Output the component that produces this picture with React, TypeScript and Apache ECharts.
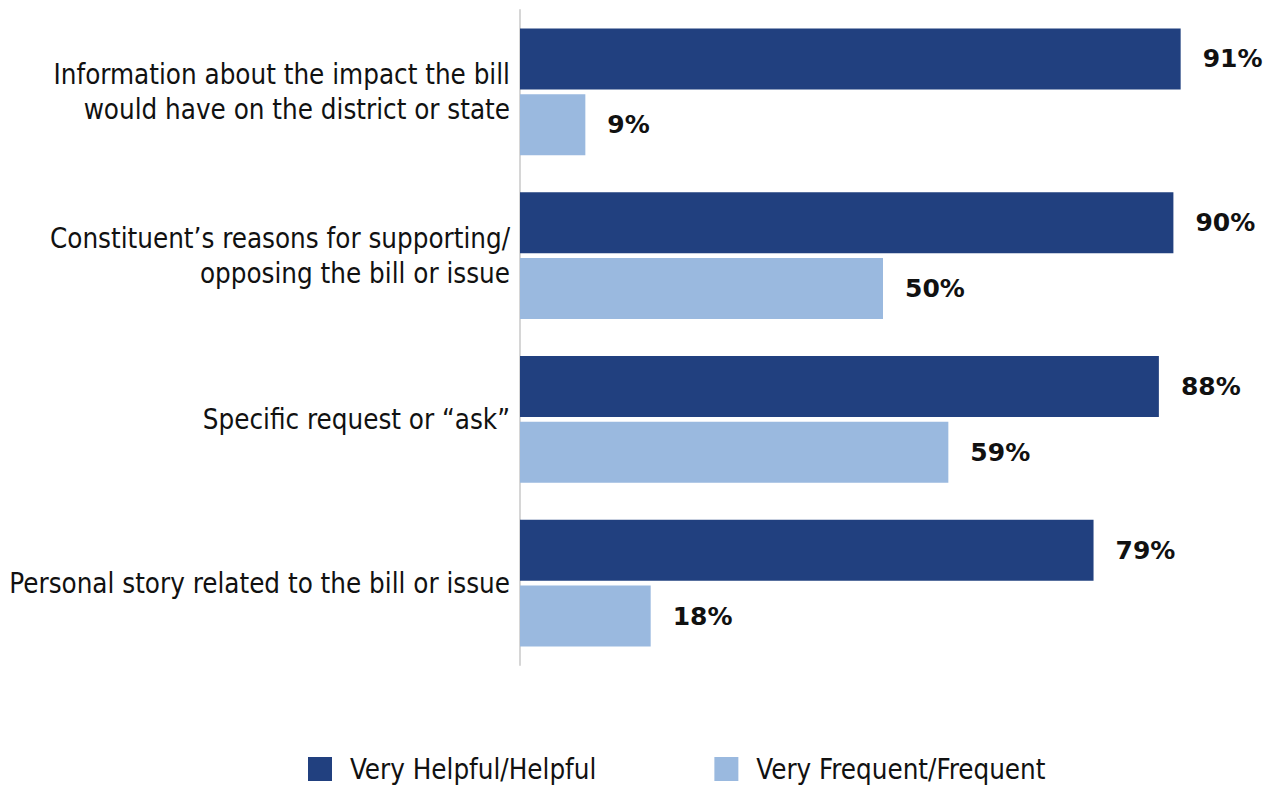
import React, { useEffect, useRef } from "react";
import * as echarts from "echarts";

const categories = [
  "Information about the impact the bill\nwould have on the district or state",
  "Constituent’s reasons for supporting/\nopposing the bill or issue",
  "Specific request or “ask”",
  "Personal story related to the bill or issue",
];
const seriesNames = ["Very Helpful/Helpful", "Very Frequent/Frequent"];
const helpful = [91, 90, 88, 79];
const frequent = [9, 50, 59, 18];

const FONT = "'Liberation Sans Narrow', 'DejaVu Sans Condensed', 'Roboto Condensed', sans-serif";
const BOLD = "'DejaVu Sans', Verdana, sans-serif";

export default function App() {
  const ref = useRef<HTMLDivElement>(null);
  useEffect(() => {
    if (!ref.current) return;
    document.body.style.margin = "0";
    const chart = echarts.init(ref.current, undefined, { renderer: "svg" });
    const label = {
      show: true,
      position: "right",
      distance: 22,
      formatter: "{c}%",
      color: "#111",
      fontFamily: BOLD,
      fontWeight: "bold",
      fontSize: 25,
    };
    chart.setOption({
      animation: false,
      grid: { left: 520, right: 20, top: 10, bottom: 121, containLabel: false },
      legend: {
        top: 752,
        left: 308,
        padding: 0,
        itemWidth: 24,
        itemHeight: 24,
        itemGap: 118,
        icon: "rect",
        textStyle: { fontFamily: FONT, fontSize: 27.5, color: "#111", padding: [0, 0, 0, 13], lineHeight: 34 },
        data: seriesNames,
      },
      xAxis: {
        type: "value",
        min: 0,
        max: 100,
        show: false,
      },
      yAxis: {
        type: "category",
        inverse: true,
        data: categories,
        axisLine: { show: true, lineStyle: { color: "#d6d6d6", width: 2 } },
        axisTick: { show: false },
        axisLabel: {
          margin: 10,
          fontFamily: FONT,
          fontSize: 27.5,
          lineHeight: 35,
          padding: [9, 0, 0, 0],
          color: "#111",
          align: "right",
        },
      },
      series: [
        {
          name: seriesNames[0],
          type: "bar",
          data: helpful,
          barWidth: 61,
          barGap: "8%",
          itemStyle: { color: "#21407f" },
          label,
        },
        {
          name: seriesNames[1],
          type: "bar",
          data: frequent,
          barWidth: 61,
          barGap: "8%",
          itemStyle: { color: "#9ab9df" },
          label,
        },
      ],
    });
    return () => chart.dispose();
  }, []);
  return <div ref={ref} style={{ width: 1266, height: 786 }} />;
}
